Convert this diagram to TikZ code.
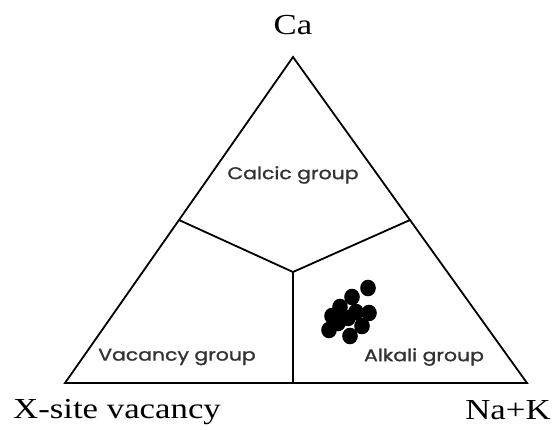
\documentclass[tikz,border=0pt]{standalone}
\usepackage{graphicx}
\usepackage{fontspec}
\setmainfont{Liberation Serif}
\newfontfamily\grpfont[FakeBold=1.2]{Poppins}
\begin{document}
\begin{tikzpicture}[x=1pt,y=-1pt,
  edge/.style={line width=1.8pt,line join=miter},
  dot/.style={fill=black},
  corner/.style={inner sep=0pt,font=\fontsize{29}{32}\selectfont},
  grp/.style={inner sep=0pt,text=black!80,font=\grpfont\fontsize{17}{19}\selectfont}]
\useasboundingbox (0,0) rectangle (554,430);
\coordinate (A) at (293,57);
\coordinate (L) at (65,383);
\coordinate (R) at (527,383);
\coordinate (ML) at (179,220);
\coordinate (MR) at (410,220);
\coordinate (C) at (293,272);
\coordinate (MB) at (293,383);
\draw[edge] (A) -- (L) -- (R) -- cycle;
\draw[edge] (ML) -- (C) -- (MR);
\draw[edge] (C) -- (MB);
\foreach \p in {(368,288),(352,297),(340,307),(332,316),(369,313),(329,330),(350,336),(362,326),(348,318),(338,323),(356,312)}
  \fill[dot] \p ellipse[x radius=7.8,y radius=8.3];
\node[corner] (ca) at (293,25) {\scalebox{1.2}[1]{Ca}};
\node[corner] (xs) at (117,412) {\scalebox{1.2}[1]{X-site vacancy}};
\node[corner] (nak) at (508,410) {\scalebox{1.2}[1]{Na+K}};
\node[grp] (calc) at (293,175) {\scalebox{1.2}[1]{Calcic group}};
\node[grp] (vac) at (177,357) {\scalebox{1.2}[1]{Vacancy group}};
\node[grp] (alk) at (424,357) {\scalebox{1.2}[1]{Alkali group}};
\end{tikzpicture}
\end{document}
